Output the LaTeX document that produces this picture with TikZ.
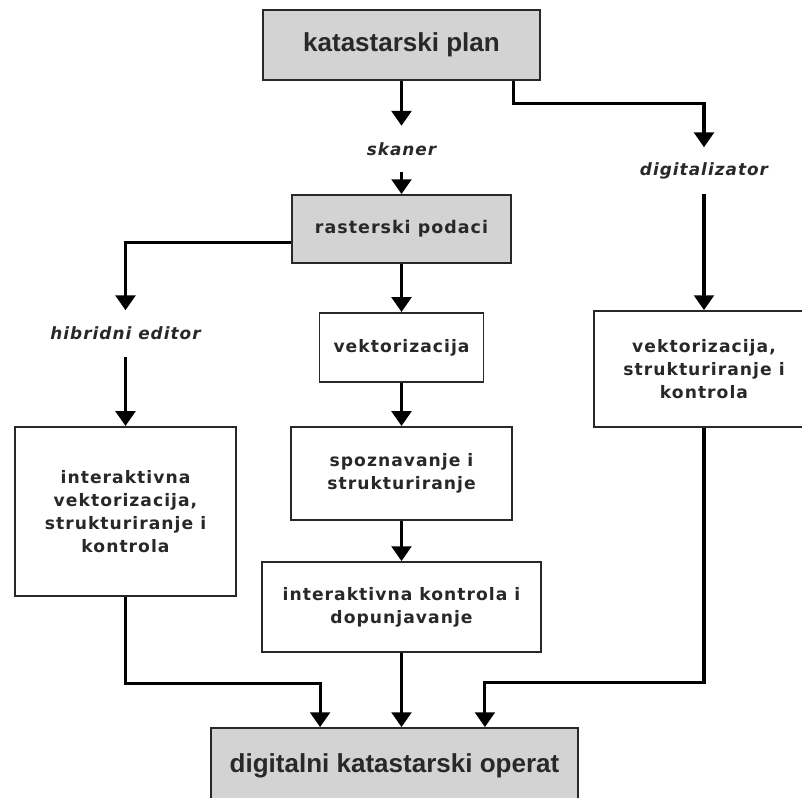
\documentclass[tikz,border=0pt]{standalone}
\usepackage{fontspec}
\setmainfont{DejaVu Sans}[LetterSpace=6]
\newfontfamily\headfont{Liberation Sans}
\usetikzlibrary{arrows.meta,positioning,calc}
\definecolor{boxgray}{RGB}{211, 211, 211}
\definecolor{ink}{RGB}{40, 40, 40}
\tikzset{
    block/.style={rectangle, draw=ink, line width=1.3pt, fill=white, align=center, inner sep=0pt, text=ink, font=\fontsize{12.2}{16.4}\selectfont\bfseries},
    greybox/.style={block, fill=boxgray, font=\headfont\fontsize{18.5}{22}\selectfont\bfseries},
    tag/.style={inner sep=0pt, minimum height=1.15cm, text=ink, font=\fontsize{12}{14}\selectfont\bfseries\itshape},
    arrow/.style={line width=2.2pt, -{Triangle[width=14pt,length=10.5pt]}, draw=black}
}
\begin{document}
\begin{tikzpicture}[x=0.025cm, y=-0.025cm]
    \useasboundingbox (0,0) rectangle (802,797);
    \clip (0,0) rectangle (802,797);
        \node (plan) [greybox, minimum width=6.93cm, minimum height=1.75cm] at (401.5,45) {katastarski plan};
        \node (skaner) [tag] at (401.5,149) {skaner};
        \node (digit) [tag] at (704,170.5) {digitalizator};
        \node (raster) [greybox, font=\fontsize{12.4}{14}\selectfont\bfseries, minimum width=5.48cm, minimum height=1.7cm] at (401.5,229) {rasterski podaci};
        \node (hibrid) [tag] at (125.5,333.5) {hibridni editor};
        \node (vekt) [block, minimum width=4.1cm, minimum height=1.73cm] at (401.5,347.5) {vektorizacija};
        \node (vsk) [block, minimum width=5.5cm, minimum height=2.9cm] at (704,369) {vektorizacija,\\strukturiranje i\\kontrola};
        \node (ivsk) [block, minimum width=5.53cm, minimum height=4.23cm] at (125.5,511.5) {interaktivna\\vektorizacija,\\strukturiranje i\\kontrola};
        \node (spozn) [block, minimum width=5.53cm, minimum height=2.33cm] at (401.5,473.5) {spoznavanje i\\strukturiranje};
        \node (ikd) [block, minimum width=6.98cm, minimum height=2.25cm] at (401.5,607) {interaktivna kontrola i\\dopunjavanje};
        \node (operat) [greybox, minimum width=9.18cm, minimum height=1.9cm] at (394.5,766) {digitalni katastarski operat};

        % skener grana
        \draw [arrow] (plan) -- (skaner);
        \draw [arrow] (skaner) -- (raster);
        \draw [arrow] (raster) -- (vekt);
        \draw [arrow] (vekt) -- (spozn);
        \draw [arrow] (spozn) -- (ikd);
        \draw [arrow] (ikd) -- (ikd |- operat.north);

        % digitalizator grana
        \draw [arrow] ([xshift=2.79cm]plan.south) -- ++(0,23) -| (digit.north);
        \draw [arrow] (digit) -- (vsk);
        \draw [arrow] (vsk.south) -- ++(0,255) -| ([xshift=2.26cm]operat.north);

        % hibridni editor
        \draw [arrow] ([yshift=-0.33cm]raster.west) -| (hibrid.north);
        \draw [arrow] (hibrid) -- (ivsk);
        \draw [arrow] (ivsk.south) -- ++(0,86) -| ([xshift=-1.86cm]operat.north);
    \end{tikzpicture}
\end{document}
